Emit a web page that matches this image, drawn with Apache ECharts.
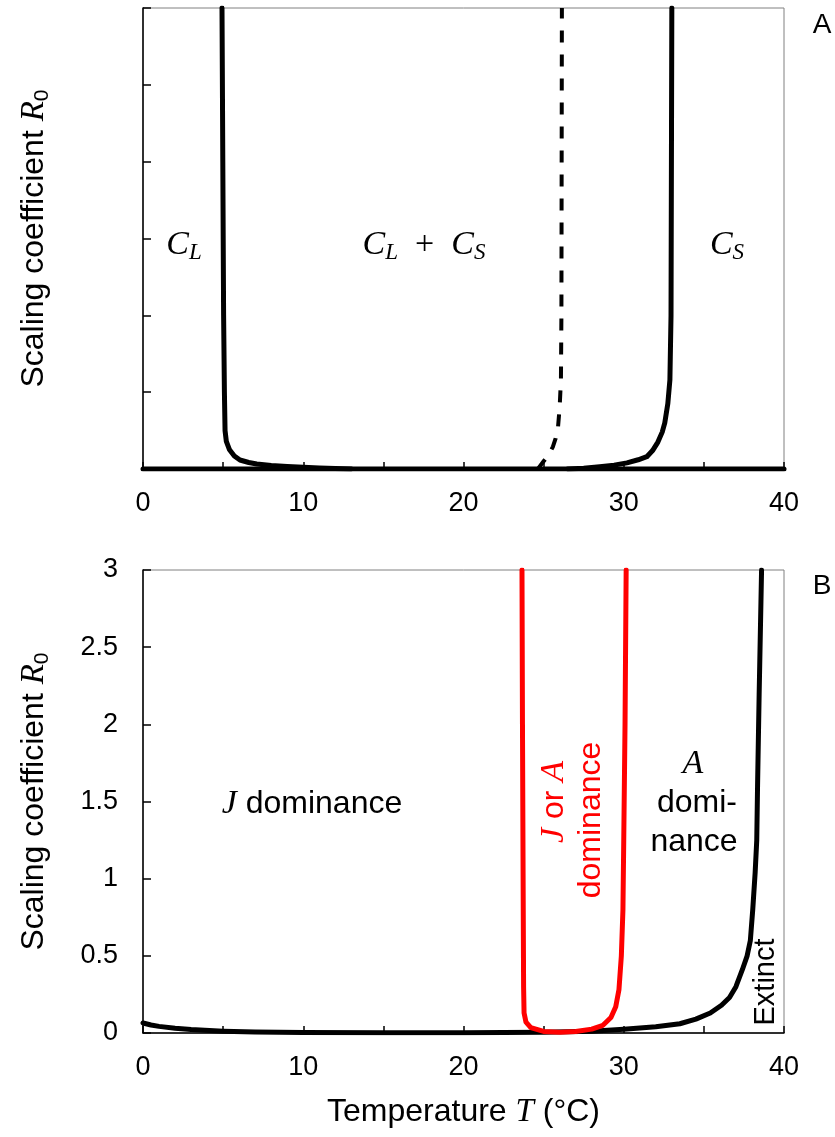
<!DOCTYPE html>
<html>
<head>
<meta charset="utf-8">
<script src="https://cdn.jsdelivr.net/npm/echarts@6/dist/echarts.min.js"></script>
<style>
html,body{margin:0;padding:0;background:#fff;}
#c{width:835px;height:1137px;}
</style>
</head>
<body>
<div id="c"></div>
<script>
// ---------- DATA ----------
// Tick labels
const xTickLabels = [0, 10, 20, 30, 40];
const yTickLabelsB = [0, 0.5, 1, 1.5, 2, 2.5, 3];

// Panel A curves: [T, R0]
const aBaseline = [[0, 0], [40, 0]];
const aLeftBoundary = [[4.93, 6], [4.98, 4], [5.03, 2], [5.08, 1], [5.12, 0.5], [5.2, 0.36], [5.4, 0.25], [5.7, 0.17], [6.05, 0.117], [6.6, 0.085], [7.1, 0.065], [8, 0.045], [9, 0.033], [10, 0.024], [11, 0.013], [12, 0.005], [13, 0]];
const aDashedBoundary = [[24.64, 0], [25.0, 0.1], [25.3, 0.18], [25.58, 0.29], [25.75, 0.4], [25.9, 0.55], [26.0, 0.8], [26.08, 1.16], [26.11, 2], [26.14, 6]];
const aRightBoundary = [[26.5, 0], [27.5, 0.01], [28.5, 0.03], [29.4, 0.05], [30.2, 0.08], [30.9, 0.12], [31.44, 0.16], [31.8, 0.24], [32.13, 0.35], [32.4, 0.48], [32.56, 0.6], [32.75, 0.85], [32.88, 1.16], [32.95, 2], [33.0, 6]];

// Panel B curves: [T, R0]
const bBlackBoundary = [[0, 0.065], [0.5, 0.052], [1, 0.043], [2, 0.031], [3, 0.022], [5, 0.012], [7, 0.006], [10, 0.003], [15, 0.002], [20, 0.002], [25, 0.005], [28, 0.012], [30, 0.025], [32, 0.04], [33.5, 0.06], [34.5, 0.09], [35.4, 0.13], [36.1, 0.18], [36.6, 0.23], [37.0, 0.3], [37.4, 0.41], [37.7, 0.5], [37.9, 0.6], [38.05, 0.8], [38.2, 1.04], [38.3, 1.25], [38.35, 1.6], [38.45, 2.2], [38.6, 3]];
const bRedBoundary = [[23.65, 3], [23.68, 2], [23.72, 1], [23.75, 0.3], [23.78, 0.13], [23.9, 0.07], [24.2, 0.035], [25, 0.01], [26, 0.005], [27, 0.01], [28, 0.025], [28.7, 0.05], [29.2, 0.1], [29.5, 0.17], [29.7, 0.28], [29.85, 0.5], [29.95, 0.8], [30.0, 1.25], [30.08, 2], [30.15, 3]];

// ---------- CHART ----------
const SANS = "'Liberation Sans', Arial, sans-serif";
const SERIF = "'Liberation Serif', 'Times New Roman', serif";

const chart = echarts.init(document.getElementById('c'), null, {renderer: 'canvas'});

const titleRich = {
  t: {fontFamily: SANS, fontSize: 32, color: '#000', lineHeight: 38},
  r: {fontFamily: SERIF, fontStyle: 'italic', fontSize: 33, color: '#000', lineHeight: 38},
  s: {fontFamily: SANS, fontSize: 21, color: '#000', lineHeight: 21, verticalAlign: 'bottom'}
};
const mathRich = {
  m: {fontFamily: SERIF, fontStyle: 'italic', fontSize: 34, fill: '#000', lineHeight: 38},
  s: {fontFamily: SERIF, fontStyle: 'italic', fontSize: 23, fill: '#000', lineHeight: 23, verticalAlign: 'bottom'},
  p: {fontFamily: SERIF, fontSize: 34, fill: '#000', lineHeight: 38}
};

function xAxisCfg(gi, withName) {
  const cfg = {
    type: 'value', gridIndex: gi, min: 0, max: 40, interval: 5,
    axisLine: {show: true, onZero: false, lineStyle: {color: '#000', width: 1.5}},
    axisTick: {show: true, inside: true, length: 7, lineStyle: {color: '#000', width: 1.5}},
    axisLabel: {
      fontFamily: SANS, fontSize: 27, color: '#000', margin: 21,
      formatter: v => (xTickLabels.indexOf(v) >= 0 ? String(v) : '')
    },
    splitLine: {show: false}
  };
  if (withName) {
    cfg.name = '{t|Temperature }{r|T}{t| (°C)}';
    cfg.nameLocation = 'middle';
    cfg.nameGap = 60;
    cfg.nameTextStyle = {rich: titleRich};
  }
  return cfg;
}

const yNameCfg = {
  name: '{t|Scaling coefficient }{r|R}{s|0}',
  nameLocation: 'middle',
  nameRotate: 90,
  nameGap: 90,
  nameTextStyle: {rich: titleRich}
};

const lineBase = {type: 'line', showSymbol: false, symbol: 'none', animation: false, clip: true, silent: true};

chart.setOption({
  backgroundColor: '#fff',
  animation: false,
  grid: [
    {left: 143, top: 8, width: 641, height: 461, show: true, borderColor: '#808080', borderWidth: 1, backgroundColor: 'transparent'},
    {left: 143, top: 570, width: 641, height: 463, show: true, borderColor: '#808080', borderWidth: 1, backgroundColor: 'transparent'}
  ],
  xAxis: [xAxisCfg(0, false), xAxisCfg(1, true)],
  yAxis: [
    Object.assign({
      type: 'value', gridIndex: 0, min: 0, max: 6, interval: 1,
      axisLine: {show: true, onZero: false, lineStyle: {color: '#000', width: 1.5}},
      axisTick: {show: true, inside: true, length: 8, lineStyle: {color: '#000', width: 1.5}},
      axisLabel: {show: false},
      splitLine: {show: false}
    }, yNameCfg),
    Object.assign({
      type: 'value', gridIndex: 1, min: 0, max: 3, interval: 0.5,
      axisLine: {show: true, onZero: false, lineStyle: {color: '#000', width: 1.5}},
      axisTick: {show: true, inside: true, length: 8, lineStyle: {color: '#000', width: 1.5}},
      axisLabel: {
        fontFamily: SANS, fontSize: 27, color: '#000', margin: 25,
        formatter: v => (yTickLabelsB.indexOf(v) >= 0 ? String(v) : '')
      },
      splitLine: {show: false}
    }, yNameCfg)
  ],
  series: [
    Object.assign({}, lineBase, {name: 'A baseline', xAxisIndex: 0, yAxisIndex: 0, data: aBaseline,
      lineStyle: {color: '#000', width: 5, cap: 'round'}}),
    Object.assign({}, lineBase, {name: 'A left', xAxisIndex: 0, yAxisIndex: 0, data: aLeftBoundary,
      lineStyle: {color: '#000', width: 5, cap: 'round', join: 'round'}}),
    Object.assign({}, lineBase, {name: 'A dashed', xAxisIndex: 0, yAxisIndex: 0, data: aDashedBoundary,
      lineStyle: {color: '#000', width: 4, type: [12, 12], join: 'round'}}),
    Object.assign({}, lineBase, {name: 'A right', xAxisIndex: 0, yAxisIndex: 0, data: aRightBoundary,
      lineStyle: {color: '#000', width: 5, cap: 'round', join: 'round'}}),
    Object.assign({}, lineBase, {name: 'B black', xAxisIndex: 1, yAxisIndex: 1, data: bBlackBoundary,
      lineStyle: {color: '#000', width: 5, cap: 'round', join: 'round'}}),
    Object.assign({}, lineBase, {name: 'B red', xAxisIndex: 1, yAxisIndex: 1, data: bRedBoundary,
      lineStyle: {color: '#ff0000', width: 5, cap: 'round', join: 'round'}})
  ],
  graphic: [
    // panel letters
    {type: 'text', x: 822, y: 25, style: {text: 'A', font: "28px 'Liberation Sans', Arial", fill: '#000', align: 'center', verticalAlign: 'middle'}},
    {type: 'text', x: 822, y: 586, style: {text: 'B', font: "28px 'Liberation Sans', Arial", fill: '#000', align: 'center', verticalAlign: 'middle'}},
    // panel A region labels
    {type: 'text', x: 184, y: 245, style: {text: '{m|C}{s|L}', rich: mathRich, align: 'center', verticalAlign: 'middle'}},
    {type: 'text', x: 424, y: 245, style: {text: '{m|C}{s|L}{p|  +  }{m|C}{s|S}', rich: mathRich, align: 'center', verticalAlign: 'middle'}},
    {type: 'text', x: 727, y: 245, style: {text: '{m|C}{s|S}', rich: mathRich, align: 'center', verticalAlign: 'middle'}},
    // panel B region labels
    {type: 'text', x: 312, y: 804, style: {
      text: '{m|J}{t| dominance}', align: 'center', verticalAlign: 'middle',
      rich: {m: {fontFamily: SERIF, fontStyle: 'italic', fontSize: 34, fill: '#000'}, t: {fontFamily: SANS, fontSize: 32, fill: '#000'}}}},
    {type: 'text', x: 693, y: 764, style: {text: 'A', font: "italic 34px 'Liberation Serif', serif", fill: '#000', align: 'center', verticalAlign: 'middle'}},
    {type: 'text', x: 697, y: 803, style: {text: 'domi-', font: "32px 'Liberation Sans', Arial", fill: '#000', align: 'center', verticalAlign: 'middle'}},
    {type: 'text', x: 694, y: 842, style: {text: 'nance', font: "32px 'Liberation Sans', Arial", fill: '#000', align: 'center', verticalAlign: 'middle'}},
    {type: 'text', x: 554, y: 802, rotation: Math.PI / 2, style: {
      text: '{m|J}{t| or }{m|A}', align: 'center', verticalAlign: 'middle',
      rich: {m: {fontFamily: SERIF, fontStyle: 'italic', fontSize: 34, fill: '#ff0000'}, t: {fontFamily: SANS, fontSize: 32, fill: '#ff0000'}}}},
    {type: 'text', x: 591, y: 820, rotation: Math.PI / 2, style: {text: 'dominance', font: "32px 'Liberation Sans', Arial", fill: '#ff0000', align: 'center', verticalAlign: 'middle'}},
    {type: 'text', x: 766, y: 982, rotation: Math.PI / 2, style: {text: 'Extinct', font: "29px 'Liberation Sans', Arial", fill: '#000', align: 'center', verticalAlign: 'middle'}}
  ]
});
</script>
</body>
</html>
